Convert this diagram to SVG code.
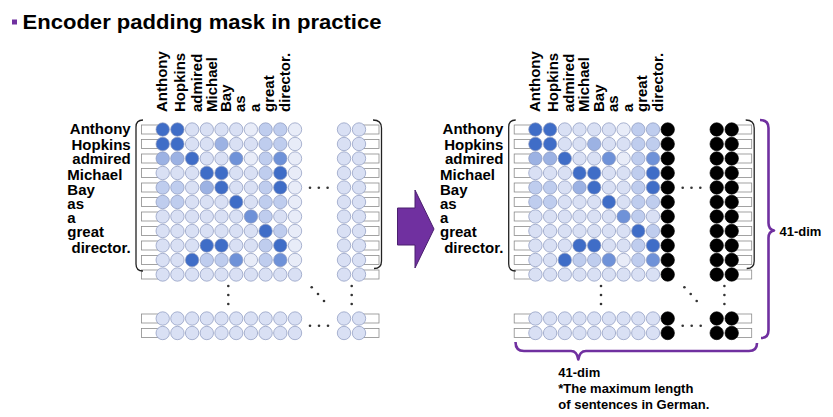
<svg xmlns="http://www.w3.org/2000/svg" xmlns:xlink="http://www.w3.org/1999/xlink" width="833" height="417" viewBox="0 0 833 417">
<style>
text{font-family:"Liberation Sans",Arial,sans-serif;font-weight:bold;fill:#000}
.lab{font-size:15px}
.dim{font-size:13px}
circle{r:6.7px;stroke:#8a97bd;stroke-width:0.7}
.c0{fill:#e8ecf8}.c1{fill:#d9e0f4}.c2{fill:#bfcdee}.c3{fill:#9cb2e3}.c4{fill:#6f92d8}.c5{fill:#3f6dc7}
.k{fill:#000;stroke:#000}
.rr{fill:#fff;stroke:#8c8c8c;stroke-width:0.8}
.br{fill:none;stroke:#222;stroke-width:1.3}
.pb{fill:none;stroke:#7030a0;stroke-width:2.6;stroke-linejoin:round}
.dot{fill:#333}
</style>
<defs>
<rect id="rl" class="rr" x="141.5" y="-4.5" width="17" height="9"/>
<rect id="rg" class="rr" x="363" y="-4.5" width="16" height="9"/>
<g id="dots">
<circle class="dot" style="stroke:none;r:1.3px" cx="310" cy="187.7"/><circle class="dot" style="stroke:none;r:1.3px" cx="318.8" cy="187.7"/><circle class="dot" style="stroke:none;r:1.3px" cx="327.6" cy="187.7"/>
<circle class="dot" style="stroke:none;r:1.3px" cx="228.3" cy="286"/><circle class="dot" style="stroke:none;r:1.3px" cx="228.3" cy="295"/><circle class="dot" style="stroke:none;r:1.3px" cx="228.3" cy="304"/>
<circle class="dot" style="stroke:none;r:1.3px" cx="311.7" cy="287.3"/><circle class="dot" style="stroke:none;r:1.3px" cx="318" cy="294"/><circle class="dot" style="stroke:none;r:1.3px" cx="324" cy="301"/>
<circle class="dot" style="stroke:none;r:1.3px" cx="351.7" cy="286"/><circle class="dot" style="stroke:none;r:1.3px" cx="351.7" cy="295"/><circle class="dot" style="stroke:none;r:1.3px" cx="351.7" cy="304"/>
<circle class="dot" style="stroke:none;r:1.3px" cx="310" cy="325.7"/><circle class="dot" style="stroke:none;r:1.3px" cx="319" cy="325.7"/><circle class="dot" style="stroke:none;r:1.3px" cx="328" cy="325.7"/>
</g>
<g id="labels">
<text class="lab" x="130.7" y="133.5" text-anchor="end">Anthony</text>
<text class="lab" x="130.7" y="150" text-anchor="end">Hopkins</text>
<text class="lab" x="130.7" y="164.3" text-anchor="end">admired</text>
<text class="lab" x="67.3" y="180">Michael</text>
<text class="lab" x="67.3" y="195">Bay</text>
<text class="lab" x="67.3" y="209">as</text>
<text class="lab" x="67.3" y="223.3">a</text>
<text class="lab" x="67.3" y="237.3">great</text>
<text class="lab" x="130.7" y="252.7" text-anchor="end">director.</text>
<text class="lab" transform="translate(167.3 112) rotate(-90)">Anthony</text>
<text class="lab" transform="translate(184.8 112) rotate(-90)">Hopkins</text>
<text class="lab" transform="translate(201.5 112) rotate(-90)">admired</text>
<text class="lab" transform="translate(216.7 112) rotate(-90)">Michael</text>
<text class="lab" transform="translate(231 112) rotate(-90)">Bay</text>
<text class="lab" transform="translate(245 112) rotate(-90)">as</text>
<text class="lab" transform="translate(260 112) rotate(-90)">a</text>
<text class="lab" transform="translate(274 112) rotate(-90)">great</text>
<text class="lab" transform="translate(290 112) rotate(-90)">director.</text>
</g>
<g id="brk">
<path class="br" d="M143,120 Q136,120 136,127 L136,264 Q136,271 143,271"/>
<path class="br" d="M373,120 Q381.5,120 381.5,128 L381.5,261 Q381.5,268.5 374,268.5"/>
</g>
<g id="rects">
<g transform="translate(0,129.5)"><use href="#rl"/><use href="#rg"/></g>
<g transform="translate(0,144)"><use href="#rl"/><use href="#rg"/></g>
<g transform="translate(0,158.5)"><use href="#rl"/><use href="#rg"/></g>
<g transform="translate(0,173)"><use href="#rl"/><use href="#rg"/></g>
<g transform="translate(0,187.5)"><use href="#rl"/><use href="#rg"/></g>
<g transform="translate(0,202)"><use href="#rl"/><use href="#rg"/></g>
<g transform="translate(0,216.5)"><use href="#rl"/><use href="#rg"/></g>
<g transform="translate(0,231)"><use href="#rl"/><use href="#rg"/></g>
<g transform="translate(0,245.5)"><use href="#rl"/><use href="#rg"/></g>
<g transform="translate(0,260)"><use href="#rl"/><use href="#rg"/></g>
<g transform="translate(0,274.5)"><use href="#rl"/><use href="#rg"/></g>
<g transform="translate(0,318.5)"><use href="#rl"/><use href="#rg"/></g>
<g transform="translate(0,333)"><use href="#rl"/><use href="#rg"/></g>
</g>
</defs>

<g id="title">
<rect x="12" y="19.5" width="5" height="5" fill="#7030a0"/>
<text x="22.5" y="29.3" style="font-size:21px" textLength="359" lengthAdjust="spacingAndGlyphs">Encoder padding mask in practice</text>
</g>

<g id="left-matrix">
<use href="#labels"/>
<use href="#rects"/>
<use href="#brk"/>
<use href="#dots"/>
<g transform="translate(0,129.5)"><circle cx="162.7" class="c5"/><circle cx="177.4" class="c5"/><circle cx="192.1" class="c1"/><circle cx="206.8" class="c1"/><circle cx="221.5" class="c1"/><circle cx="236.2" class="c1"/><circle cx="250.9" class="c0"/><circle cx="265.6" class="c2"/><circle cx="280.3" class="c2"/><circle cx="295" class="c0"/><circle cx="344" class="c1"/><circle cx="359" class="c1"/></g>
<g transform="translate(0,144)"><circle cx="162.7" class="c5"/><circle cx="177.4" class="c5"/><circle cx="192.1" class="c1"/><circle cx="206.8" class="c1"/><circle cx="221.5" class="c3"/><circle cx="236.2" class="c1"/><circle cx="250.9" class="c1"/><circle cx="265.6" class="c2"/><circle cx="280.3" class="c2"/><circle cx="295" class="c0"/><circle cx="344" class="c1"/><circle cx="359" class="c1"/></g>
<g transform="translate(0,158.5)"><circle cx="162.7" class="c3"/><circle cx="177.4" class="c3"/><circle cx="192.1" class="c5"/><circle cx="206.8" class="c1"/><circle cx="221.5" class="c1"/><circle cx="236.2" class="c4"/><circle cx="250.9" class="c0"/><circle cx="265.6" class="c2"/><circle cx="280.3" class="c4"/><circle cx="295" class="c0"/><circle cx="344" class="c1"/><circle cx="359" class="c1"/></g>
<g transform="translate(0,173)"><circle cx="162.7" class="c1"/><circle cx="177.4" class="c1"/><circle cx="192.1" class="c1"/><circle cx="206.8" class="c5"/><circle cx="221.5" class="c5"/><circle cx="236.2" class="c1"/><circle cx="250.9" class="c1"/><circle cx="265.6" class="c2"/><circle cx="280.3" class="c5"/><circle cx="295" class="c0"/><circle cx="344" class="c1"/><circle cx="359" class="c1"/></g>
<g transform="translate(0,187.5)"><circle cx="162.7" class="c2"/><circle cx="177.4" class="c2"/><circle cx="192.1" class="c1"/><circle cx="206.8" class="c3"/><circle cx="221.5" class="c5"/><circle cx="236.2" class="c1"/><circle cx="250.9" class="c1"/><circle cx="265.6" class="c2"/><circle cx="280.3" class="c5"/><circle cx="295" class="c0"/><circle cx="344" class="c1"/><circle cx="359" class="c1"/></g>
<g transform="translate(0,202)"><circle cx="162.7" class="c2"/><circle cx="177.4" class="c2"/><circle cx="192.1" class="c1"/><circle cx="206.8" class="c1"/><circle cx="221.5" class="c1"/><circle cx="236.2" class="c5"/><circle cx="250.9" class="c1"/><circle cx="265.6" class="c2"/><circle cx="280.3" class="c2"/><circle cx="295" class="c0"/><circle cx="344" class="c1"/><circle cx="359" class="c1"/></g>
<g transform="translate(0,216.5)"><circle cx="162.7" class="c1"/><circle cx="177.4" class="c1"/><circle cx="192.1" class="c1"/><circle cx="206.8" class="c1"/><circle cx="221.5" class="c1"/><circle cx="236.2" class="c1"/><circle cx="250.9" class="c4"/><circle cx="265.6" class="c2"/><circle cx="280.3" class="c1"/><circle cx="295" class="c0"/><circle cx="344" class="c1"/><circle cx="359" class="c1"/></g>
<g transform="translate(0,231)"><circle cx="162.7" class="c1"/><circle cx="177.4" class="c1"/><circle cx="192.1" class="c1"/><circle cx="206.8" class="c1"/><circle cx="221.5" class="c1"/><circle cx="236.2" class="c1"/><circle cx="250.9" class="c1"/><circle cx="265.6" class="c5"/><circle cx="280.3" class="c2"/><circle cx="295" class="c0"/><circle cx="344" class="c1"/><circle cx="359" class="c1"/></g>
<g transform="translate(0,245.5)"><circle cx="162.7" class="c1"/><circle cx="177.4" class="c1"/><circle cx="192.1" class="c1"/><circle cx="206.8" class="c5"/><circle cx="221.5" class="c5"/><circle cx="236.2" class="c1"/><circle cx="250.9" class="c1"/><circle cx="265.6" class="c2"/><circle cx="280.3" class="c5"/><circle cx="295" class="c0"/><circle cx="344" class="c1"/><circle cx="359" class="c1"/></g>
<g transform="translate(0,260)"><circle cx="162.7" class="c1"/><circle cx="177.4" class="c1"/><circle cx="192.1" class="c5"/><circle cx="206.8" class="c2"/><circle cx="221.5" class="c2"/><circle cx="236.2" class="c4"/><circle cx="250.9" class="c0"/><circle cx="265.6" class="c2"/><circle cx="280.3" class="c4"/><circle cx="295" class="c0"/><circle cx="344" class="c1"/><circle cx="359" class="c1"/></g>
<g transform="translate(0,274.5)"><circle cx="162.7" class="c1"/><circle cx="177.4" class="c1"/><circle cx="192.1" class="c1"/><circle cx="206.8" class="c1"/><circle cx="221.5" class="c1"/><circle cx="236.2" class="c1"/><circle cx="250.9" class="c1"/><circle cx="265.6" class="c1"/><circle cx="280.3" class="c1"/><circle cx="295" class="c1"/><circle cx="344" class="c1"/><circle cx="359" class="c1"/></g>
<g transform="translate(0,318.5)"><circle cx="162.7" class="c1"/><circle cx="177.4" class="c1"/><circle cx="192.1" class="c1"/><circle cx="206.8" class="c1"/><circle cx="221.5" class="c1"/><circle cx="236.2" class="c1"/><circle cx="250.9" class="c1"/><circle cx="265.6" class="c1"/><circle cx="280.3" class="c1"/><circle cx="295" class="c1"/><circle cx="344" class="c1"/><circle cx="359" class="c1"/></g>
<g transform="translate(0,333)"><circle cx="162.7" class="c1"/><circle cx="177.4" class="c1"/><circle cx="192.1" class="c1"/><circle cx="206.8" class="c1"/><circle cx="221.5" class="c1"/><circle cx="236.2" class="c1"/><circle cx="250.9" class="c1"/><circle cx="265.6" class="c1"/><circle cx="280.3" class="c1"/><circle cx="295" class="c1"/><circle cx="344" class="c1"/><circle cx="359" class="c1"/></g>
</g>

<g id="arrow">
<polygon points="397.5,208 415,208 415,190 434,229 415,268 415,245 397.5,245" fill="#7030a0" stroke="#4a1f6e" stroke-width="1"/>
</g>

<g id="right-matrix" transform="translate(372.7,0)">
<use href="#labels"/>
<use href="#rects"/>
<use href="#brk"/>
<use href="#dots"/>
<g transform="translate(0,129.5)"><circle cx="162.7" class="c5"/><circle cx="177.4" class="c5"/><circle cx="192.1" class="c1"/><circle cx="206.8" class="c1"/><circle cx="221.5" class="c1"/><circle cx="236.2" class="c1"/><circle cx="250.9" class="c0"/><circle cx="265.6" class="c2"/><circle cx="280.3" class="c2"/><circle cx="295" class="k"/><circle cx="344" class="k"/><circle cx="359" class="k"/></g>
<g transform="translate(0,144)"><circle cx="162.7" class="c5"/><circle cx="177.4" class="c5"/><circle cx="192.1" class="c1"/><circle cx="206.8" class="c1"/><circle cx="221.5" class="c3"/><circle cx="236.2" class="c1"/><circle cx="250.9" class="c1"/><circle cx="265.6" class="c2"/><circle cx="280.3" class="c2"/><circle cx="295" class="k"/><circle cx="344" class="k"/><circle cx="359" class="k"/></g>
<g transform="translate(0,158.5)"><circle cx="162.7" class="c3"/><circle cx="177.4" class="c3"/><circle cx="192.1" class="c5"/><circle cx="206.8" class="c1"/><circle cx="221.5" class="c1"/><circle cx="236.2" class="c4"/><circle cx="250.9" class="c0"/><circle cx="265.6" class="c2"/><circle cx="280.3" class="c4"/><circle cx="295" class="k"/><circle cx="344" class="k"/><circle cx="359" class="k"/></g>
<g transform="translate(0,173)"><circle cx="162.7" class="c1"/><circle cx="177.4" class="c1"/><circle cx="192.1" class="c1"/><circle cx="206.8" class="c5"/><circle cx="221.5" class="c5"/><circle cx="236.2" class="c1"/><circle cx="250.9" class="c1"/><circle cx="265.6" class="c2"/><circle cx="280.3" class="c5"/><circle cx="295" class="k"/><circle cx="344" class="k"/><circle cx="359" class="k"/></g>
<g transform="translate(0,187.5)"><circle cx="162.7" class="c2"/><circle cx="177.4" class="c2"/><circle cx="192.1" class="c1"/><circle cx="206.8" class="c3"/><circle cx="221.5" class="c5"/><circle cx="236.2" class="c1"/><circle cx="250.9" class="c1"/><circle cx="265.6" class="c2"/><circle cx="280.3" class="c5"/><circle cx="295" class="k"/><circle cx="344" class="k"/><circle cx="359" class="k"/></g>
<g transform="translate(0,202)"><circle cx="162.7" class="c2"/><circle cx="177.4" class="c2"/><circle cx="192.1" class="c1"/><circle cx="206.8" class="c1"/><circle cx="221.5" class="c1"/><circle cx="236.2" class="c5"/><circle cx="250.9" class="c1"/><circle cx="265.6" class="c2"/><circle cx="280.3" class="c2"/><circle cx="295" class="k"/><circle cx="344" class="k"/><circle cx="359" class="k"/></g>
<g transform="translate(0,216.5)"><circle cx="162.7" class="c1"/><circle cx="177.4" class="c1"/><circle cx="192.1" class="c1"/><circle cx="206.8" class="c1"/><circle cx="221.5" class="c1"/><circle cx="236.2" class="c1"/><circle cx="250.9" class="c4"/><circle cx="265.6" class="c2"/><circle cx="280.3" class="c1"/><circle cx="295" class="k"/><circle cx="344" class="k"/><circle cx="359" class="k"/></g>
<g transform="translate(0,231)"><circle cx="162.7" class="c1"/><circle cx="177.4" class="c1"/><circle cx="192.1" class="c1"/><circle cx="206.8" class="c1"/><circle cx="221.5" class="c1"/><circle cx="236.2" class="c1"/><circle cx="250.9" class="c1"/><circle cx="265.6" class="c5"/><circle cx="280.3" class="c2"/><circle cx="295" class="k"/><circle cx="344" class="k"/><circle cx="359" class="k"/></g>
<g transform="translate(0,245.5)"><circle cx="162.7" class="c1"/><circle cx="177.4" class="c1"/><circle cx="192.1" class="c1"/><circle cx="206.8" class="c5"/><circle cx="221.5" class="c5"/><circle cx="236.2" class="c1"/><circle cx="250.9" class="c1"/><circle cx="265.6" class="c2"/><circle cx="280.3" class="c5"/><circle cx="295" class="k"/><circle cx="344" class="k"/><circle cx="359" class="k"/></g>
<g transform="translate(0,260)"><circle cx="162.7" class="c1"/><circle cx="177.4" class="c1"/><circle cx="192.1" class="c5"/><circle cx="206.8" class="c2"/><circle cx="221.5" class="c2"/><circle cx="236.2" class="c4"/><circle cx="250.9" class="c0"/><circle cx="265.6" class="c2"/><circle cx="280.3" class="c4"/><circle cx="295" class="k"/><circle cx="344" class="k"/><circle cx="359" class="k"/></g>
<g transform="translate(0,274.5)"><circle cx="162.7" class="c1"/><circle cx="177.4" class="c1"/><circle cx="192.1" class="c1"/><circle cx="206.8" class="c1"/><circle cx="221.5" class="c1"/><circle cx="236.2" class="c1"/><circle cx="250.9" class="c1"/><circle cx="265.6" class="c1"/><circle cx="280.3" class="c1"/><circle cx="295" class="k"/><circle cx="344" class="k"/><circle cx="359" class="k"/></g>
<g transform="translate(0,318.5)"><circle cx="162.7" class="c1"/><circle cx="177.4" class="c1"/><circle cx="192.1" class="c1"/><circle cx="206.8" class="c1"/><circle cx="221.5" class="c1"/><circle cx="236.2" class="c1"/><circle cx="250.9" class="c1"/><circle cx="265.6" class="c1"/><circle cx="280.3" class="c1"/><circle cx="295" class="k"/><circle cx="344" class="k"/><circle cx="359" class="k"/></g>
<g transform="translate(0,333)"><circle cx="162.7" class="c1"/><circle cx="177.4" class="c1"/><circle cx="192.1" class="c1"/><circle cx="206.8" class="c1"/><circle cx="221.5" class="c1"/><circle cx="236.2" class="c1"/><circle cx="250.9" class="c1"/><circle cx="265.6" class="c1"/><circle cx="280.3" class="c1"/><circle cx="295" class="k"/><circle cx="344" class="k"/><circle cx="359" class="k"/></g>
</g>

<g id="braces">
<path class="pb" d="M760,120 Q768.5,120 768.5,128 L768.5,223 Q768.5,229.5 774,230.5 Q768.5,231.5 768.5,238 L768.5,330 Q768.5,338 761,338"/>
<path class="pb" d="M515.5,342 Q515.5,351 524,351 L571,351 Q577,351 578.3,359.5 Q579.6,351 586,351 L749,351 Q757,351 757,343"/>
</g>

<g id="dim-labels">
<text class="dim" x="779.5" y="235.5">41-dim</text>
<text class="dim" x="558.3" y="377.3">41-dim</text>
<text class="dim" x="558.3" y="393.3">*The maximum length</text>
<text class="dim" x="558.3" y="409">of sentences in German.</text>
</g>
</svg>
